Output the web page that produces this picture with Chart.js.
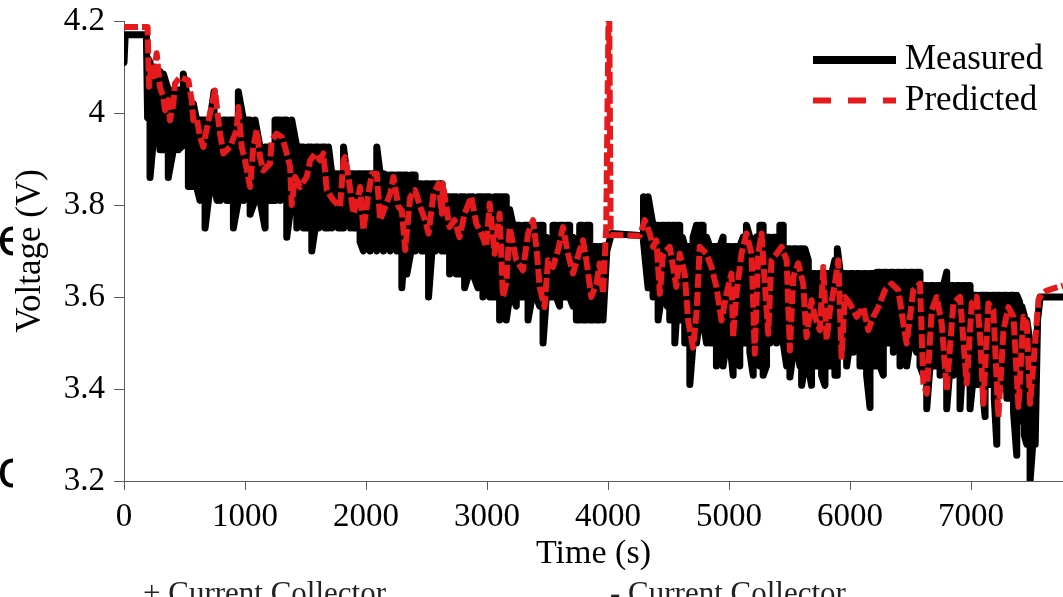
<!DOCTYPE html>
<html>
<head>
<meta charset="utf-8">
<title>Voltage vs time</title>
<script src="https://cdn.jsdelivr.net/npm/chart.js@4.4.1/dist/chart.umd.min.js"></script>
<style>
  html, body { margin: 0; padding: 0; background: #fff; overflow: hidden; }
  #wrap { position: relative; width: 1063px; height: 597px; overflow: hidden; }
  #myChart { position: absolute; left: 0; top: 0; }
  .caption { position: absolute; font-family: "Liberation Serif", serif; font-size: 31px; line-height: 31px; color: #222; white-space: nowrap; }
  .cut { position: absolute; left: 0; width: 13px; overflow: hidden; font-family: "Noto Sans", sans-serif; font-size: 52px; line-height: 52px; color: #000; text-indent: -3px; }
</style>
</head>
<body>
<div id="wrap">
  <canvas id="myChart" width="1063" height="597"></canvas>
  <div class="cut" style="top:209px">e</div>
  <div class="cut" style="top:441px">c</div>
  <div class="caption" style="left:143px; top:577px">+ Current Collector</div>
  <div class="caption" style="left:610px; top:577px">- Current Collector</div>
</div>
<script>
const seriesLabels = ['Measured', 'Predicted'];
const xTitle = 'Time (s)';
const yTitle = 'Voltage (V)';
const xTickValues = [0, 1000, 2000, 3000, 4000, 5000, 6000, 7000];
const xTickLabels = ['0', '1000', '2000', '3000', '4000', '5000', '6000', '7000'];
const yTickValues = [3.2, 3.4, 3.6, 3.8, 4.0, 4.2];
const yTickLabels = ['3.2', '3.4', '3.6', '3.8', '4', '4.2'];

// measured voltage: upper and lower edge of the fast switching trace at each time
const measuredTime = [
  0, 10, 185,
  195, 215, 256, 297, 325, 366, 408, 449, 490, 532, 573, 600, 628, 670, 711, 744, 770, 794,
  822, 849, 876, 904, 945, 987, 1015, 1042, 1083, 1124, 1166, 1207, 1248, 1290, 1318, 1345,
  1386, 1428, 1455, 1483, 1518, 1552, 1580, 1607, 1635, 1662, 1690, 1717, 1745, 1772, 1814,
  1841, 1869, 1896, 1924, 1951, 1979, 2006, 2034, 2062, 2089, 2117, 2144, 2172, 2200, 2227,
  2255, 2296, 2317, 2337, 2372, 2406, 2434, 2461, 2489, 2517, 2545, 2572, 2600, 2627,
  2663, 2691, 2718, 2746, 2780, 2815, 2849, 2884, 2925, 2966, 2994, 3022, 3063, 3104, 3132,
  3159, 3187, 3215, 3242, 3270, 3305, 3339, 3373, 3408, 3435, 3463, 3490, 3518, 3545, 3573,
  3600, 3628, 3655, 3683, 3711, 3738, 3766, 3793, 3821, 3849, 3876, 3904, 3931, 3959,
  3990, 4028, 4290,
  4295, 4331, 4372, 4400, 4414, 4441, 4469, 4490, 4510, 4531, 4552, 4572, 4593, 4614, 4634,
  4655, 4676, 4703, 4731, 4758, 4786, 4814, 4841, 4869, 4896, 4924, 4951, 4979, 5007, 5034,
  5062, 5089, 5117, 5144, 5172, 5200, 5227,
  5255, 5282, 5310, 5338, 5365, 5393, 5420, 5448, 5476, 5503, 5531, 5558, 5586, 5600, 5627,
  5655, 5682, 5710, 5737, 5765, 5793, 5820, 5848, 5875, 5895, 5920, 5944, 5972, 5999, 6027,
  6055, 6082, 6110, 6137, 6165, 6192, 6220, 6248, 6275, 6303, 6330, 6358, 6385, 6413, 6441,
  6468, 6496, 6523, 6551, 6578, 6606, 6634, 6661, 6689, 6716, 6744, 6772, 6799, 6827, 6854,
  6882, 6909, 6930, 6951, 6972, 6992, 7020, 7047, 7075, 7102, 7116, 7144, 7171, 7192, 7213,
  7240, 7268, 7296, 7323, 7351, 7378, 7400, 7419, 7440, 7461, 7488, 7510, 7530,
  7550, 7571, 7760
];
const measuredHigh = [
  4.11, 4.17, 4.17,
  4.12, 4.11, 4.10, 4.09, 4.085, 4.05, 4.05, 4.05, 4.085, 4.02, 4.02, 3.985, 3.985, 3.985, 3.985, 4.046, 3.985, 3.985,
  3.985, 3.985, 3.985, 3.985, 4.046, 3.985, 3.985, 3.985, 3.985, 3.926, 3.926, 3.926, 3.985, 3.985, 3.985, 3.985,
  3.985, 3.926, 3.926, 3.926, 3.926, 3.926, 3.926, 3.926, 3.926, 3.926, 3.926, 3.868, 3.868, 3.868, 3.926,
  3.868, 3.868, 3.868, 3.868, 3.868, 3.868, 3.868, 3.868, 3.868, 3.926, 3.868, 3.868, 3.865, 3.865, 3.865,
  3.865, 3.865, 3.865, 3.865, 3.865, 3.865, 3.846, 3.846, 3.846, 3.846, 3.846, 3.846, 3.846, 3.846,
  3.818, 3.818, 3.818, 3.818, 3.818, 3.818, 3.818, 3.818, 3.818, 3.818, 3.818, 3.818, 3.818, 3.818, 3.818,
  3.818, 3.79, 3.756, 3.756, 3.756, 3.756, 3.756, 3.756, 3.756, 3.756, 3.756, 3.73, 3.71, 3.756, 3.756,
  3.756, 3.756, 3.756, 3.756, 3.73, 3.71, 3.756, 3.756, 3.756, 3.756, 3.71, 3.71, 3.71, 3.71,
  3.70, 3.738, 3.733,
  3.818, 3.818, 3.756, 3.756, 3.756, 3.756, 3.756, 3.756, 3.756, 3.756, 3.756, 3.756, 3.756, 3.73, 3.71,
  3.71, 3.71, 3.73, 3.756, 3.756, 3.756, 3.73, 3.71, 3.71, 3.71, 3.71, 3.73, 3.71, 3.71, 3.71,
  3.71, 3.71, 3.73, 3.756, 3.73, 3.71, 3.73,
  3.756, 3.756, 3.73, 3.73, 3.73, 3.73, 3.756, 3.756, 3.705, 3.705, 3.705, 3.705, 3.705, 3.705, 3.705,
  3.68, 3.651, 3.651, 3.651, 3.651, 3.651, 3.651, 3.651, 3.68, 3.705, 3.651, 3.651, 3.651, 3.651, 3.651,
  3.651, 3.651, 3.651, 3.651, 3.651, 3.651, 3.654, 3.654, 3.654, 3.654, 3.654, 3.654, 3.654, 3.654, 3.654,
  3.654, 3.654, 3.654, 3.654, 3.654, 3.625, 3.625, 3.625, 3.625, 3.625, 3.625, 3.625, 3.654, 3.625, 3.625,
  3.625, 3.625, 3.625, 3.625, 3.625, 3.625, 3.604, 3.604, 3.604, 3.604, 3.604, 3.604, 3.604, 3.604, 3.604,
  3.604, 3.604, 3.604, 3.604, 3.604, 3.604, 3.59, 3.58, 3.56, 3.55, 3.50, 3.50, 3.50,
  3.55, 3.60, 3.60
];
const measuredLow = [
  4.11, 4.17, 4.17,
  3.99, 3.86, 3.98, 3.92, 3.92, 3.86, 3.92, 3.92, 3.93, 3.84, 3.84, 3.84, 3.81, 3.75, 3.84, 3.84, 3.81, 3.81,
  3.84, 3.81, 3.81, 3.75, 3.81, 3.81, 3.84, 3.78, 3.81, 3.81, 3.75, 3.81, 3.81, 3.81, 3.84, 3.73,
  3.81, 3.75, 3.78, 3.75, 3.75, 3.70, 3.75, 3.75, 3.78, 3.75, 3.75, 3.75, 3.78, 3.75, 3.75,
  3.78, 3.75, 3.75, 3.75, 3.72, 3.70, 3.75, 3.70, 3.72, 3.70, 3.75, 3.70, 3.72, 3.70, 3.75,
  3.70, 3.62, 3.70, 3.65, 3.70, 3.70, 3.72, 3.70, 3.70, 3.60, 3.70, 3.70, 3.72, 3.70,
  3.70, 3.65, 3.67, 3.65, 3.65, 3.62, 3.65, 3.65, 3.62, 3.60, 3.62, 3.60, 3.60, 3.55, 3.58,
  3.55, 3.60, 3.60, 3.58, 3.60, 3.60, 3.55, 3.60, 3.60, 3.58, 3.50, 3.60, 3.60, 3.60, 3.60,
  3.58, 3.60, 3.60, 3.60, 3.58, 3.55, 3.55, 3.55, 3.55, 3.55, 3.55, 3.55, 3.55, 3.55,
  3.70, 3.738, 3.733,
  3.72, 3.62, 3.60, 3.62, 3.55, 3.60, 3.60, 3.58, 3.55, 3.58, 3.50, 3.58, 3.55, 3.55, 3.50,
  3.55, 3.41, 3.50, 3.50, 3.55, 3.55, 3.50, 3.50, 3.50, 3.45, 3.50, 3.45, 3.50, 3.50, 3.43,
  3.50, 3.45, 3.50, 3.50, 3.48, 3.43, 3.50,
  3.45, 3.43, 3.45, 3.50, 3.55, 3.50, 3.55, 3.50, 3.45, 3.426, 3.48, 3.50, 3.45, 3.408, 3.45,
  3.45, 3.408, 3.45, 3.45, 3.43, 3.408, 3.45, 3.45, 3.43, 3.43, 3.50, 3.50, 3.45, 3.50, 3.48,
  3.50, 3.45, 3.45, 3.43, 3.36, 3.45, 3.45, 3.45, 3.43, 3.50, 3.50, 3.48, 3.50, 3.45, 3.48,
  3.45, 3.50, 3.50, 3.48, 3.45, 3.43, 3.357, 3.45, 3.45, 3.45, 3.43, 3.45, 3.357, 3.45, 3.43,
  3.45, 3.357, 3.45, 3.43, 3.45, 3.357, 3.43, 3.41, 3.41, 3.38, 3.34, 3.41, 3.41, 3.38, 3.28,
  3.40, 3.40, 3.38, 3.38, 3.35, 3.256, 3.33, 3.33, 3.30, 3.28, 3.20, 3.28, 3.28,
  3.55, 3.60, 3.60
];

// predicted voltage
const predictedTime = [
  0, 195, 200, 207, 228, 242, 270, 297, 325, 339, 366, 380, 408, 421, 463, 532, 559, 573, 601, 628,
  656, 670, 711, 752, 780, 794, 821, 876, 931, 945, 973, 1000, 1042, 1069, 1097, 1124, 1152, 1207,
  1221, 1262, 1304, 1331, 1373, 1386, 1414, 1455, 1510, 1538, 1579, 1621, 1648, 1676, 1731, 1786,
  1814, 1827, 1855, 1896, 1924, 1951, 1979, 2020, 2048, 2089, 2117, 2158, 2200, 2227, 2268, 2296,
  2324, 2365, 2406, 2448, 2489, 2517, 2558, 2599, 2627, 2636, 2663, 2691, 2732, 2773, 2815, 2870,
  2911, 2953, 2994, 3022, 3063, 3104, 3132, 3159, 3187, 3242, 3297, 3339, 3380, 3408, 3435, 3476,
  3504, 3545, 3587, 3628, 3669, 3711, 3766, 3793, 3821, 3862, 3904, 3931, 3959, 3985, 4008, 4022,
  4262, 4304, 4345, 4372, 4400, 4428, 4455, 4510, 4538, 4565, 4593, 4634, 4662, 4703, 4731, 4758,
  4814, 4855, 4896, 4938, 4979, 5020, 5034, 5062, 5103, 5144, 5186, 5213, 5241, 5269, 5296, 5324,
  5351, 5393, 5434, 5476, 5503, 5531, 5572, 5613, 5641, 5682, 5710, 5751, 5779, 5806, 5834, 5875,
  5903, 5930, 5958, 5999, 6055, 6110, 6151, 6192, 6234, 6289, 6344, 6399, 6441, 6468, 6523, 6578,
  6606, 6634, 6675, 6716, 6758, 6799, 6854, 6909, 6964, 7006, 7047, 7075, 7102, 7144, 7185, 7226,
  7268, 7309, 7351, 7392, 7433, 7461, 7488, 7516, 7557, 7585, 7626, 7760
];
const predictedVolt = [
  4.187, 4.187, 4.13, 4.057, 4.107, 4.07, 4.13, 4.056, 4.035, 4.006, 4.028, 3.984, 4.02, 4.064, 4.078, 4.071, 4.028, 3.984, 3.99, 3.948,
  3.926, 3.948, 3.999, 4.049, 3.984, 3.955, 3.912, 3.926, 3.963, 4.013, 3.926, 3.897, 3.839, 3.926, 3.963, 3.904, 3.875, 3.89,
  3.941, 3.955, 3.948, 3.926, 3.883, 3.80, 3.861, 3.839, 3.861, 3.897, 3.912, 3.897, 3.912, 3.832, 3.81, 3.796,
  3.897, 3.904, 3.861, 3.781, 3.803, 3.839, 3.745, 3.825, 3.868, 3.868, 3.767, 3.796, 3.825, 3.861, 3.796, 3.788,
  3.702, 3.817, 3.832, 3.796, 3.767, 3.738, 3.825, 3.846, 3.781, 3.846, 3.796, 3.752, 3.767, 3.73, 3.781, 3.818,
  3.76, 3.738, 3.709, 3.803, 3.694, 3.781, 3.60, 3.629, 3.752, 3.68, 3.658, 3.738, 3.767, 3.709, 3.622, 3.578,
  3.68, 3.665, 3.702, 3.752, 3.694, 3.651, 3.702, 3.723, 3.68, 3.60, 3.629, 3.673, 3.607, 3.75, 4.3, 3.735,
  3.733, 3.767, 3.738, 3.709, 3.723, 3.607, 3.694, 3.709, 3.665, 3.622, 3.694, 3.651, 3.549, 3.49, 3.564, 3.709,
  3.694, 3.665, 3.622, 3.549, 3.607, 3.651, 3.513, 3.607, 3.694, 3.738, 3.694, 3.477, 3.694, 3.738, 3.629, 3.52,
  3.68, 3.694, 3.709, 3.68, 3.484, 3.644, 3.673, 3.629, 3.513, 3.593, 3.557, 3.528, 3.665, 3.506, 3.571, 3.629,
  3.68, 3.47, 3.60, 3.586, 3.557, 3.578, 3.528, 3.557, 3.578, 3.615, 3.629, 3.615, 3.542, 3.499, 3.615, 3.629,
  3.412, 3.39, 3.571, 3.60, 3.542, 3.397, 3.586, 3.60, 3.412, 3.586, 3.60, 3.513, 3.368, 3.586, 3.571, 3.339,
  3.528, 3.578, 3.557, 3.361, 3.557, 3.542, 3.368, 3.455, 3.593, 3.607, 3.614, 3.625
];

// the measured trace switches between its upper and lower edge, drawn as a zigzag
const measuredPoints = [];
measuredTime.forEach(function(t, i) {
  const first = i % 2 === 0 ? measuredHigh[i] : measuredLow[i];
  const second = i % 2 === 0 ? measuredLow[i] : measuredHigh[i];
  measuredPoints.push({ x: t, y: first }, { x: t, y: second });
});
const predictedPoints = predictedTime.map(function(t, i) {
  return { x: t, y: predictedVolt[i] };
});

const serif = 'Liberation Serif, Times New Roman, serif';

// legend drawn inside the plot, top right
const insideLegend = {
  id: 'insideLegend',
  afterDatasetsDraw(chart, args, opts) {
    const ctx = chart.ctx;
    chart.data.datasets.forEach(function(ds, i) {
      const y = opts.y + i * opts.rowGap;
      ctx.save();
      ctx.strokeStyle = ds.borderColor;
      ctx.lineWidth = opts.lineWidths[i];
      ctx.setLineDash(opts.dashes[i]);
      ctx.beginPath();
      ctx.moveTo(opts.x, y);
      ctx.lineTo(opts.x + opts.lineLength, y);
      ctx.stroke();
      ctx.setLineDash([]);
      ctx.fillStyle = '#000';
      ctx.font = opts.fontSize + 'px ' + serif;
      ctx.textBaseline = 'middle';
      ctx.textAlign = 'left';
      ctx.fillText(ds.label, opts.x + opts.lineLength + opts.textGap, y);
      ctx.restore();
    });
  }
};

const axisColor = '#5a5a5a';

const ctx = document.getElementById('myChart').getContext('2d');
const myChart = new Chart(ctx, {
  type: 'line',
  data: {
    datasets: [{
      label: seriesLabels[0],
      data: measuredPoints,
      borderColor: '#000000',
      borderWidth: 7,
      borderCapStyle: 'round',
      borderJoinStyle: 'round',
      pointRadius: 0,
      tension: 0,
      clip: 0,
      order: 2
    },
    {
      label: seriesLabels[1],
      data: predictedPoints,
      borderColor: '#e41a1c',
      borderWidth: 6,
      borderDash: [14, 4],
      borderCapStyle: 'butt',
      borderJoinStyle: 'round',
      pointRadius: 0,
      tension: 0,
      clip: 0,
      order: 1
    }]
  },
  options: {
    responsive: false,
    animation: false,
    devicePixelRatio: 1,
    events: [],
    layout: { padding: { top: 21, right: 0, bottom: 0, left: 0 } },
    plugins: {
      legend: { display: false },
      tooltip: { enabled: false },
      insideLegend: {
        x: 813, y: 60, rowGap: 40.5, lineLength: 83, textGap: 9, fontSize: 35,
        lineWidths: [8, 6], dashes: [[], [18, 17]]
      }
    },
    scales: {
      x: {
        type: 'linear',
        min: 0,
        max: 7760,
        afterBuildTicks: function(scale) {
          scale.ticks = xTickValues.map(v => ({ value: v }));
        },
        afterFit: function(scale) { scale.height = 116; },
        ticks: {
          callback: function(value, index) { return xTickLabels[index]; },
          font: { family: serif, size: 33 },
          color: '#000',
          padding: 8,
          maxRotation: 0,
          autoSkip: false
        },
        grid: { display: true, drawOnChartArea: false, drawTicks: true, tickLength: 9, color: axisColor, lineWidth: 1 },
        border: { display: true, color: axisColor, width: 1 },
        title: {
          display: true,
          text: xTitle,
          font: { family: serif, size: 34 },
          color: '#000',
          padding: { top: 0, bottom: 23 }
        }
      },
      y: {
        min: 3.2,
        max: 4.2,
        afterBuildTicks: function(scale) {
          scale.ticks = yTickValues.map(v => ({ value: v }));
        },
        afterFit: function(scale) { scale.width = 124; },
        ticks: {
          callback: function(value, index) { return yTickLabels[index]; },
          font: { family: serif, size: 33, lineHeight: 0.7 },
          color: '#000',
          padding: 9
        },
        grid: { display: true, drawOnChartArea: false, drawTicks: true, tickLength: 10, color: axisColor, lineWidth: 1 },
        border: { display: true, color: axisColor, width: 1 },
        title: {
          display: true,
          text: yTitle,
          font: { family: serif, size: 35 },
          color: '#000',
          padding: { top: 10, bottom: 0 }
        }
      }
    }
  },
  plugins: [insideLegend]
});
</script>
</body>
</html>
